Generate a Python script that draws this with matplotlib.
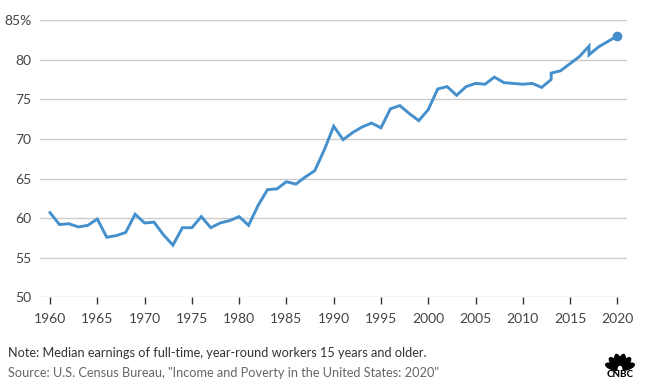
import numpy as np
import matplotlib.pyplot as plt
from matplotlib.patches import Ellipse

years = [1960, 1961, 1962, 1963, 1964, 1965, 1966, 1967, 1968, 1969,
         1970, 1971, 1972, 1973, 1974, 1975, 1976, 1977, 1978, 1979,
         1980, 1981, 1982, 1983, 1984, 1985, 1986, 1987, 1988, 1989,
         1990, 1991, 1992, 1993, 1994, 1995, 1996, 1997, 1998, 1999,
         2000, 2001, 2002, 2003, 2004, 2005, 2006, 2007, 2008, 2009,
         2010, 2011, 2012, 2013, 2013, 2014, 2015, 2016, 2017, 2017,
         2018, 2019, 2020]
ratio = [60.7, 59.2, 59.3, 58.9, 59.1, 59.9, 57.6, 57.8, 58.2, 60.5,
         59.4, 59.5, 57.9, 56.6, 58.8, 58.8, 60.2, 58.8, 59.4, 59.7,
         60.2, 59.1, 61.6, 63.6, 63.7, 64.6, 64.3, 65.2, 66.0, 68.6,
         71.6, 69.9, 70.8, 71.5, 72.0, 71.4, 73.8, 74.2, 73.2, 72.3,
         73.7, 76.3, 76.6, 75.5, 76.6, 77.0, 76.9, 77.8, 77.1, 77.0,
         76.9, 77.0, 76.5, 77.5, 78.3, 78.6, 79.5, 80.4, 81.7, 80.6,
         81.6, 82.3, 83.0]
xticks = [1960, 1965, 1970, 1975, 1980, 1985, 1990, 1995, 2000, 2005, 2010, 2015, 2020]
yticks = [50, 55, 60, 65, 70, 75, 80, 85]
ylabels = ['50', '55', '60', '65', '70', '75', '80', '85%']

plt.rcParams['font.family'] = ['Lato', 'DejaVu Sans']
blue = '#4590cc'

fig = plt.figure(figsize=(6.46, 3.84), dpi=100)
ax = fig.add_axes([0.0619, 0.2253, 0.9087, 0.7226])
ax.set_xlim(1958.94, 2021.02)
ax.set_ylim(50, 85)

for y in yticks:
    ax.axhline(y, color='#cccccc', lw=1.0, zorder=1)

ax.plot(years, ratio, color=blue, lw=2.1, solid_joinstyle='miter', zorder=3, clip_on=False)
ax.plot(years[-1], ratio[-1], 'o', color=blue, ms=6, zorder=4, clip_on=False)

for s in ax.spines.values():
    s.set_visible(False)
ax.set_xticks(xticks)
ax.set_xticklabels([str(x) for x in xticks])
ax.set_yticks(yticks)
ax.set_yticklabels(ylabels)
ax.tick_params(axis='x', direction='out', length=5, width=1, color='#333333',
               labelsize=10, labelcolor='#444444', pad=6)
ax.tick_params(axis='y', length=0, labelsize=10, labelcolor='#444444', pad=6)

fig.text(8 / 646, 1 - 353 / 384, 'Note: Median earnings of full-time, year-round workers 15 years and older.',
         fontsize=9.2, color='#333333', va='center')
fig.text(8 / 646, 1 - 373 / 384, 'Source: U.S. Census Bureau, "Income and Poverty in the United States: 2020"',
         fontsize=9.2, color='#666666', va='center')

# small peacock logo
lax = fig.add_axes([602 / 646, 7 / 384, 36 / 646, 27 / 384])
lax.set_xlim(0, 36)
lax.set_ylim(0, 27)
lax.axis('off')
for ang in np.linspace(162, 18, 6):
    r = np.deg2rad(ang)
    cx = 18 + 7.5 * np.cos(r)
    cy = 8 + 7.5 * np.sin(r)
    lax.add_patch(Ellipse((cx, cy), 15, 5.8, angle=ang, color='black'))
lax.add_patch(Ellipse((18, 8), 3.5, 5, color='white'))
lax.text(18, 2.5, 'CNBC', fontsize=7, fontweight='black', ha='center', va='center', color='black')

fig.savefig('out.png', dpi=100)
